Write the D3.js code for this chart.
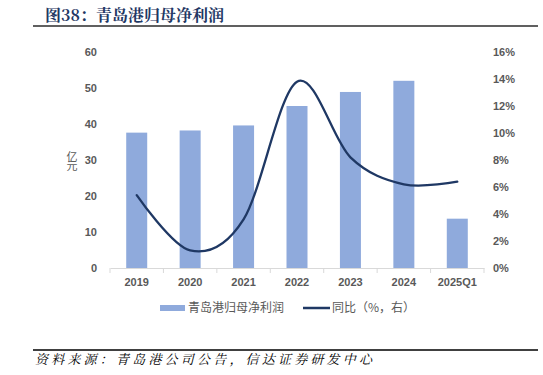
<!DOCTYPE html>
<html>
<head>
<meta charset="utf-8">
<script src="https://cdn.jsdelivr.net/npm/d3@7"></script>
<style>
  body { margin: 0; background: #fff; }
  svg { display: block; }
</style>
</head>
<body>
<div id="chart"></div>
<script>
// data
const categories = ['2019', '2020', '2021', '2022', '2023', '2024', '2025Q1']
const profit = [37.6, 38.2, 39.6, 45.0, 48.9, 52.0, 13.7]      // 亿元
const yoy = [5.4, 1.3, 3.6, 13.8, 8.2, 6.2, 6.4]               // %
const leftTicks = [0, 10, 20, 30, 40, 50, 60]
const rightTicks = [0, 2, 4, 6, 8, 10, 12, 14, 16]

const W = 543, H = 375
const plot = {left: 110, right: 484, top: 52, bottom: 268}
const barColor = '#8faadc'
const lineColor = '#1f3864'
const labelFont = '"Liberation Sans", Arial, sans-serif'
const cjkFont = '"Noto Sans CJK SC", sans-serif'

const svg = d3.select('#chart').append('svg')
  .attr('width', W)
  .attr('height', H)

// title + rule
svg.append('text')
  .attr('x', 45)
  .attr('y', 21)
  .attr('font-family', '"Noto Serif CJK SC", "Noto Sans CJK SC", serif')
  .attr('font-weight', 'bold')
  .attr('font-size', 16)
  .attr('fill', '#1f3864')
  .text('图38：青岛港归母净利润')

svg.append('line')
  .attr('x1', 33).attr('x2', 538)
  .attr('y1', 26).attr('y2', 26)
  .attr('stroke', '#606060')
  .attr('stroke-width', 2)

// scales
const xOuter = d3.scaleBand()
  .domain(categories)
  .range([plot.left, plot.right])

const yLeft = d3.scaleLinear().domain([0, 60]).range([plot.bottom, plot.top])
const yRight = d3.scaleLinear().domain([0, 16]).range([plot.bottom, plot.top])

// bars
svg.append('g')
  .selectAll('rect')
  .data(profit)
  .join('rect')
  .attr('x', (d, i) => xOuter(categories[i]) + (xOuter.bandwidth() - 21) / 2)
  .attr('width', 21)
  .attr('y', d => yLeft(d))
  .attr('height', d => plot.bottom - yLeft(d))
  .attr('fill', barColor)

// x axis
const xAxis = svg.append('g')
  .attr('transform', `translate(0,${plot.bottom})`)
  .call(d3.axisBottom(xOuter).tickSize(0).tickPadding(10))
xAxis.select('.domain').attr('stroke', '#d9d9d9')
xAxis.selectAll('text')
  .attr('font-family', labelFont)
  .attr('font-weight', 'bold')
  .attr('font-size', 11)
  .attr('fill', '#595959')

// category separators
svg.append('g')
  .selectAll('line')
  .data(categories)
  .join('line')
  .attr('x1', d => xOuter(d)).attr('x2', d => xOuter(d))
  .attr('y1', plot.bottom).attr('y2', plot.bottom + 5)
  .attr('stroke', '#d9d9d9')
svg.append('line')
  .attr('x1', plot.right).attr('x2', plot.right)
  .attr('y1', plot.bottom).attr('y2', plot.bottom + 5)
  .attr('stroke', '#d9d9d9')

// left axis
const leftAxis = svg.append('g')
  .attr('transform', `translate(97,0)`)
  .call(d3.axisLeft(yLeft).tickValues(leftTicks).tickSize(0).tickPadding(0))
leftAxis.select('.domain').remove()
leftAxis.selectAll('text')
  .attr('font-family', labelFont)
  .attr('font-weight', 'bold')
  .attr('font-size', 11)
  .attr('fill', '#595959')

// right axis
const rightAxis = svg.append('g')
  .attr('transform', `translate(493,0)`)
  .call(d3.axisRight(yRight).tickValues(rightTicks).tickSize(0).tickPadding(0)
    .tickFormat(d => d + '%'))
rightAxis.select('.domain').remove()
rightAxis.selectAll('text')
  .attr('font-family', labelFont)
  .attr('font-weight', 'bold')
  .attr('font-size', 11)
  .attr('fill', '#595959')

// y axis unit, stacked vertically
svg.append('text')
  .attr('x', 72)
  .attr('y', 151)
  .attr('font-family', cjkFont)
  .attr('font-size', 11)
  .attr('fill', '#595959')
  .style('writing-mode', 'vertical-rl')
  .style('text-orientation', 'upright')
  .style('letter-spacing', '-2px')
  .text('亿元')

// yoy line
const line = d3.line()
  .x((d, i) => xOuter(categories[i]) + xOuter.bandwidth() / 2)
  .y(d => yRight(d))
  .curve(d3.curveCardinal.tension(0))

svg.append('path')
  .datum(yoy)
  .attr('d', line)
  .attr('fill', 'none')
  .attr('stroke', lineColor)
  .attr('stroke-width', 2.3)
  .attr('stroke-linecap', 'round')

// legend
const legend = svg.append('g')
legend.append('rect')
  .attr('x', 160).attr('y', 305)
  .attr('width', 25).attr('height', 6)
  .attr('fill', barColor)
legend.append('text')
  .attr('x', 188).attr('y', 312)
  .attr('font-family', cjkFont)
  .attr('font-size', 12)
  .attr('fill', '#595959')
  .text('青岛港归母净利润')
legend.append('line')
  .attr('x1', 303).attr('x2', 330)
  .attr('y1', 308).attr('y2', 308)
  .attr('stroke', lineColor)
  .attr('stroke-width', 2.5)
legend.append('text')
  .attr('x', 332).attr('y', 312)
  .attr('font-family', cjkFont)
  .attr('font-size', 12)
  .attr('fill', '#595959')
  .text('同比（%，右）')

// source
svg.append('line')
  .attr('x1', 33).attr('x2', 538)
  .attr('y1', 350).attr('y2', 350)
  .attr('stroke', '#404040')
  .attr('stroke-width', 2)

svg.append('text')
  .attr('x', 35)
  .attr('y', 364)
  .attr('font-family', '"Noto Serif CJK SC", "Noto Sans CJK SC", serif')
  .attr('font-style', 'italic')
  .attr('font-size', 13)
  .attr('letter-spacing', 3.2)
  .attr('fill', '#000')
  .text('资料来源：青岛港公司公告，信达证券研发中心')
</script>
</body>
</html>
